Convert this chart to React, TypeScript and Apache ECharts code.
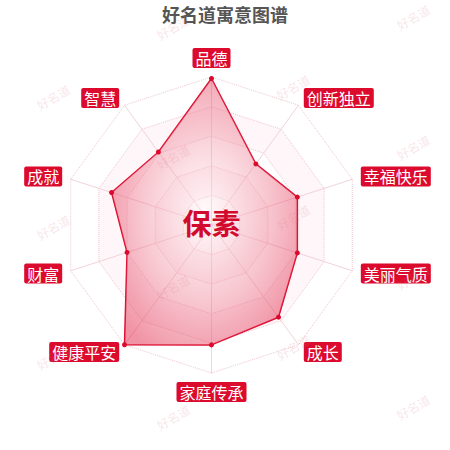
import React, { useEffect, useRef } from 'react';
import * as echarts from 'echarts';

const TITLE = '好名道寓意图谱';
const NAME_TEXT = '保素';
const WATERMARK = '好名道';

// clockwise from the top
const INDICATORS = ['品德', '创新独立', '幸福快乐', '美丽气质', '成长', '家庭传承', '健康平安', '财富', '成就', '智慧'];
const SCORES = [99, 51, 61, 61, 77, 81, 100, 60, 71, 61];
const MAX_SCORE = 100;

const COLORS = {
  TITLE: '#555555',
  RED: '#dc0a2d',
  NAME: '#d20a2e',
  SPLIT_LINE: '#efc6cf',
  AXIS_LINE: '#f2d3d9',
  WATERMARK: 'rgba(220, 120, 140, 0.2)',
};

const FONT = '"Noto Sans CJK SC", "Noto Sans", sans-serif';

const buildWatermarks = () => {
  const items: any[] = [];
  for (let i = -3; i <= 3; i++) {
    for (let j = -3; j <= 8; j++) {
      const x = 53 + 240 * i + 120 * j;
      const y = 97 - 10 * i + 60 * j;
      if (x < -30 || x > 480 || y < 10 || y > 440) continue;
      items.push({
        type: 'text',
        x,
        y,
        rotation: Math.PI / 6,
        silent: true,
        z: 100,
        style: {
          text: WATERMARK,
          fill: COLORS.WATERMARK,
          font: `12px ${FONT}`,
          align: 'center',
          verticalAlign: 'middle',
          textAlign: 'center',
          textVerticalAlign: 'middle',
        },
      });
    }
  }
  return items;
};

const App: React.FC = () => {
  const divEL = useRef<HTMLDivElement>(null);

  useEffect(() => {
    document.body.style.margin = '0';
    const instance = echarts.init(divEL.current as any, undefined, { renderer: 'svg' });

    // echarts lays indicators out counter-clockwise, so reverse everything after the first one
    const order = [0, ...INDICATORS.slice(1).map((_, k) => INDICATORS.length - 1 - k)];

    const option: echarts.EChartsOption = {
      animation: false,
      textStyle: { fontFamily: FONT },
      title: {
        text: TITLE,
        left: 'center',
        top: 0,
        textStyle: { color: COLORS.TITLE, fontSize: 18, fontWeight: 'bold', fontFamily: FONT },
      },
      radar: {
        center: ['47%', '50%'],
        radius: 148,
        startAngle: 90,
        splitNumber: 5,
        nameGap: 9,
        indicator: order.map((k) => ({ name: INDICATORS[k], max: MAX_SCORE })),
        axisName: {
          color: '#fff',
          backgroundColor: COLORS.RED,
          borderRadius: 2,
          padding: [2, 3],
          fontSize: 16,
          fontFamily: FONT,
        },
        axisLine: { lineStyle: { color: COLORS.AXIS_LINE, width: 1 } },
        splitLine: { lineStyle: { color: COLORS.SPLIT_LINE, type: 'dotted', width: 1 } },
        splitArea: {
          areaStyle: { color: ['rgba(255,255,255,0)', 'rgba(248,210,218,0.2)'] },
        },
      },
      series: [
        {
          type: 'radar',
          symbol: 'circle',
          symbolSize: 5,
          itemStyle: { color: COLORS.RED },
          lineStyle: { color: COLORS.RED, width: 1.5 },
          areaStyle: {
            color: new echarts.graphic.RadialGradient(0.5, 0.5, 0.6, [
              { offset: 0, color: 'rgba(255,240,243,0.5)' },
              { offset: 1, color: 'rgba(225,35,70,0.7)' },
            ]),
          },
          data: [{ value: order.map((k) => SCORES[k]), name: NAME_TEXT }],
        },
      ],
      graphic: [
        ...buildWatermarks(),
        {
          type: 'text',
          x: 450 * 0.47,
          y: 222,
          z: 101,
          silent: true,
          style: {
            text: NAME_TEXT,
            fill: COLORS.NAME,
            font: `bold 29px ${FONT}`,
            align: 'center',
            verticalAlign: 'middle',
            textAlign: 'center',
            textVerticalAlign: 'middle',
          },
        },
      ],
    };

    instance.setOption(option);

    return () => {
      instance.dispose();
    };
  }, []);

  return <div ref={divEL} style={{ width: 450, height: 450 }}></div>;
};

export default App;
